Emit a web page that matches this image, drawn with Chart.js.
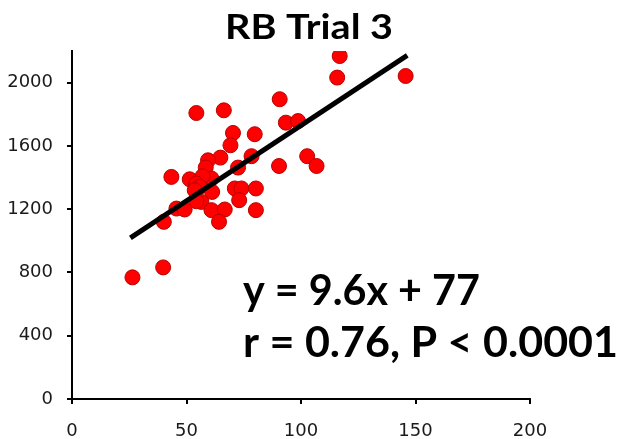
<!DOCTYPE html>
<html>
<head>
<meta charset="utf-8">
<script src="https://cdn.jsdelivr.net/npm/chart.js@4"></script>
<style>
  body { margin: 0; background: #fff; }
  #wrap { width: 621px; height: 439px; }
</style>
</head>
<body>
<div id="wrap"><canvas id="myChart" width="621" height="439"></canvas></div>
<script>
// values
var xValues = [116.9, 115.8, 145.7, 90.7, 66.3, 54.3, 93.4, 98.7, 70.3, 79.8,
               69.2, 102.7, 106.8, 90.4, 78.4, 64.8, 59.4, 72.5, 58.4, 43.4,
               51.4, 60.9, 57.0, 54.3, 55.8, 53.6, 61.2, 71.1, 74.0, 80.3,
               73.0, 56.5, 54.3, 45.6, 49.2, 60.9, 66.7, 80.3, 40.1, 64.2,
               26.4, 39.8];
var yValues = [2168, 2032, 2042, 1895, 1825, 1808, 1747, 1757, 1682, 1674,
               1604, 1535, 1473, 1473, 1535, 1526, 1509, 1463, 1463, 1404,
               1389, 1394, 1408, 1362, 1341, 1320, 1309, 1331, 1331, 1331,
               1257, 1246, 1250, 1204, 1198, 1194, 1198, 1194, 1120, 1120,
               769, 832];
var fitX = [25.5, 146.4];
var fitY = [1019, 2172];
var xTicks = [0, 50, 100, 150, 200];
var yTicks = [0, 400, 800, 1200, 1600, 2000];
var titleText = 'RB Trial 3';
var noteLines = ['y = 9.6x + 77', 'r = 0.76, P < 0.0001'];

var points = xValues.map(function (x, i) { return { x: x, y: yValues[i] }; });
var fitLine = fitX.map(function (x, i) { return { x: x, y: fitY[i] }; });

// draw text with a given cap height stretched/squeezed to a given width
function fitText(ctx, text, left, baseline, size, width) {
    ctx.save();
    ctx.font = 'bold ' + size + 'px Lato';
    ctx.fillStyle = '#000';
    ctx.textBaseline = 'alphabetic';
    ctx.textAlign = 'left';
    var w = ctx.measureText(text).width;
    ctx.translate(left, baseline);
    ctx.scale(width / w, 1);
    ctx.fillText(text, 0, 0);
    ctx.restore();
}

var textPlugin = {
    id: 'texts',
    afterDraw: function (chart) {
        var ctx = chart.ctx;
        fitText(ctx, titleText, 225, 39, 34, 168);
        fitText(ctx, noteLines[0], 243, 305, 41.5, 237);
        fitText(ctx, noteLines[1], 243, 357, 41.5, 375);
    }
};

var tickFont = { family: 'DejaVu Sans', size: 18 };
var plainLabel = function (v) { return String(v); };

var config = {
    type : 'scatter',
    data : {
        datasets : [{
            type : 'line',
            data : fitLine,
            borderColor : '#000',
            borderWidth : 5,
            pointRadius : 0,
            fill : false,
            order : 0
        }, {
            data : points,
            backgroundColor : '#ff0000',
            borderColor : '#b80000',
            borderWidth : 1,
            pointRadius : 7.5,
            order : 1
        }]
    },
    options : {
        responsive : false,
        animation : false,
        layout : { padding : { top : 51, right : 91, bottom : 0, left : 0 } },
        plugins : {
            legend : { display : false },
            tooltip : { enabled : false }
        },
        scales : {
            x : {
                type : 'linear',
                min : 0,
                max : 200,
                afterBuildTicks : function (s) { s.ticks = xTicks.map(function (v) { return { value: v }; }); },
                afterFit : function (s) { s.height = 40; },
                ticks : { font : tickFont, color : '#1a1a1a', padding : 17, maxRotation : 0, callback : plainLabel },
                grid : { drawOnChartArea : false, drawTicks : true, tickLength : 5, color : '#000', lineWidth : 2 },
                border : { display : true, color : '#000', width : 2 }
            },
            y : {
                type : 'linear',
                position : 'left',
                min : 0,
                max : 2200,
                afterBuildTicks : function (s) { s.ticks = yTicks.map(function (v) { return { value: v }; }); },
                afterFit : function (s) { s.width = 72; },
                ticks : { font : tickFont, color : '#1a1a1a', padding : 14, crossAlign : 'near', callback : plainLabel },
                grid : { drawOnChartArea : false, drawTicks : true, tickLength : 5, color : '#000', lineWidth : 2 },
                border : { display : true, color : '#000', width : 2 }
            }
        }
    },
    plugins : [textPlugin]
};

var myChart = new Chart(document.getElementById('myChart'), config);
</script>
</body>
</html>
